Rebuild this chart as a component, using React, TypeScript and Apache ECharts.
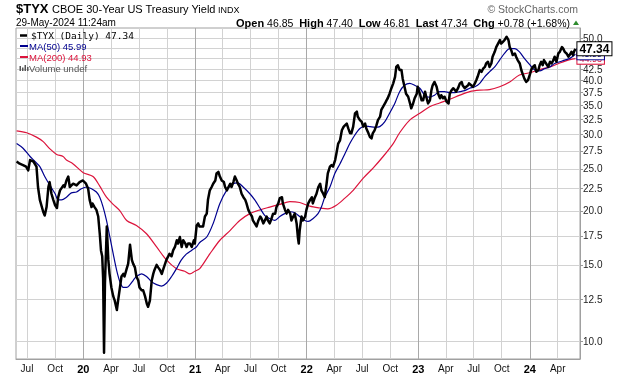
import React, { useEffect, useRef } from 'react';
import * as echarts from 'echarts';

// ---------- DATA ----------
const tyx2019: [string, number][] = [
  ['2019-05-28', 26.0], ['2019-06-07', 25.7], ['2019-06-18', 25.5], ['2019-06-28', 25.3], ['2019-07-05', 24.8],
  ['2019-07-11', 26.2], ['2019-07-22', 26.0], ['2019-08-01', 25.3], ['2019-08-06', 22.7], ['2019-08-12', 21.2],
  ['2019-08-23', 19.9], ['2019-08-28', 19.5], ['2019-09-03', 20.4], ['2019-09-09', 22.7], ['2019-09-13', 23.3],
  ['2019-09-19', 21.9], ['2019-09-25', 21.2], ['2019-10-01', 20.6], ['2019-10-07', 20.3], ['2019-10-11', 21.5],
  ['2019-10-17', 22.3], ['2019-10-28', 22.9], ['2019-11-01', 22.7], ['2019-11-07', 23.5], ['2019-11-13', 24.0],
  ['2019-11-18', 22.7], ['2019-11-29', 23.1], ['2019-12-10', 22.9], ['2019-12-20', 23.3], ['2019-12-31', 23.5],
];
const tyx2020: [string, number][] = [
  ['2020-01-10', 23.1], ['2020-01-17', 22.5], ['2020-01-22', 21.2], ['2020-01-28', 20.4], ['2020-01-31', 20.8],
  ['2020-02-07', 20.4], ['2020-02-13', 20.1], ['2020-02-19', 19.4], ['2020-02-24', 17.7], ['2020-02-28', 16.2],
  ['2020-03-03', 15.7], ['2020-03-06', 14.0], ['2020-03-09', 9.4], ['2020-03-12', 13.6], ['2020-03-18', 18.4],
  ['2020-03-23', 15.4], ['2020-03-27', 14.3], ['2020-04-02', 13.3], ['2020-04-08', 12.7], ['2020-04-13', 12.4],
  ['2020-04-20', 11.8], ['2020-04-24', 12.4], ['2020-04-30', 13.3], ['2020-05-05', 14.1], ['2020-05-11', 14.3],
  ['2020-05-15', 14.1], ['2020-05-21', 14.6], ['2020-05-27', 15.1], ['2020-06-02', 16.7], ['2020-06-08', 15.4],
  ['2020-06-12', 15.1], ['2020-06-18', 14.8], ['2020-06-23', 14.1], ['2020-06-29', 13.8], ['2020-07-03', 13.3],
  ['2020-07-10', 13.1], ['2020-07-15', 13.1], ['2020-07-21', 12.7], ['2020-07-27', 12.2], ['2020-07-31', 12.0],
  ['2020-08-06', 12.4], ['2020-08-12', 13.8], ['2020-08-17', 14.3], ['2020-08-21', 14.6], ['2020-08-28', 15.0],
  ['2020-09-02', 14.8], ['2020-09-08', 14.6], ['2020-09-14', 14.3], ['2020-09-18', 14.6], ['2020-09-29', 15.4],
  ['2020-10-05', 15.7], ['2020-10-09', 15.9], ['2020-10-16', 15.7], ['2020-10-21', 16.2], ['2020-10-27', 16.5],
  ['2020-11-02', 17.1], ['2020-11-06', 16.8], ['2020-11-12', 17.4], ['2020-11-18', 16.5], ['2020-11-23', 17.1],
  ['2020-11-30', 16.8], ['2020-12-04', 16.5], ['2020-12-09', 16.8], ['2020-12-15', 16.8], ['2020-12-21', 16.5],
  ['2020-12-28', 17.1], ['2020-12-31', 16.8],
];
const tyx2021: [string, number][] = [
  ['2021-01-06', 18.5], ['2021-01-11', 18.7], ['2021-01-15', 18.4], ['2021-01-27', 18.4], ['2021-02-02', 19.4],
  ['2021-02-08', 19.7], ['2021-02-12', 21.2], ['2021-02-18', 22.3], ['2021-02-24', 22.7], ['2021-03-01', 23.1],
  ['2021-03-08', 23.5], ['2021-03-12', 24.4], ['2021-03-18', 24.6], ['2021-03-23', 24.0], ['2021-03-29', 23.5],
  ['2021-04-05', 23.3], ['2021-04-09', 22.7], ['2021-04-15', 22.3], ['2021-04-20', 22.7], ['2021-04-26', 23.1],
  ['2021-04-30', 22.7], ['2021-05-06', 23.3], ['2021-05-11', 24.0], ['2021-05-17', 23.5], ['2021-05-21', 23.1],
  ['2021-05-27', 22.7], ['2021-06-02', 21.9], ['2021-06-08', 21.5], ['2021-06-14', 21.2], ['2021-06-18', 20.8],
  ['2021-06-24', 20.1], ['2021-06-30', 19.7], ['2021-07-06', 19.4], ['2021-07-09', 19.0], ['2021-07-15', 18.7],
  ['2021-07-21', 18.4], ['2021-07-27', 19.0], ['2021-08-02', 19.4], ['2021-08-06', 19.2], ['2021-08-12', 18.7],
  ['2021-08-17', 19.0], ['2021-08-23', 19.4], ['2021-08-27', 19.0], ['2021-09-02', 18.7], ['2021-09-08', 19.2],
  ['2021-09-13', 19.7], ['2021-09-20', 19.7], ['2021-09-24', 20.4], ['2021-09-30', 20.8], ['2021-10-05', 21.4],
  ['2021-10-12', 21.5], ['2021-10-15', 20.8], ['2021-10-22', 20.1], ['2021-10-27', 19.7], ['2021-11-01', 20.1],
  ['2021-11-08', 19.7], ['2021-11-12', 19.0], ['2021-11-18', 19.4], ['2021-11-23', 19.7], ['2021-11-29', 18.7],
  ['2021-12-03', 17.4], ['2021-12-06', 16.8], ['2021-12-09', 18.0], ['2021-12-15', 19.4], ['2021-12-20', 19.0],
  ['2021-12-27', 19.4], ['2021-12-31', 20.1],
];
const tyx2022: [string, number][] = [
  ['2022-01-06', 20.8], ['2022-01-12', 21.2], ['2022-01-18', 21.5], ['2022-01-21', 20.8], ['2022-01-28', 21.5],
  ['2022-02-02', 21.9], ['2022-02-08', 22.7], ['2022-02-14', 23.1], ['2022-02-18', 22.3], ['2022-02-24', 21.9],
  ['2022-03-01', 21.5], ['2022-03-07', 23.1], ['2022-03-11', 24.4], ['2022-03-18', 25.3], ['2022-03-23', 25.5],
  ['2022-03-28', 25.3], ['2022-04-04', 26.2], ['2022-04-08', 27.1], ['2022-04-14', 28.6], ['2022-04-20', 29.1],
  ['2022-04-26', 30.7], ['2022-05-02', 31.3], ['2022-05-06', 31.5], ['2022-05-12', 31.8], ['2022-05-17', 31.0],
  ['2022-05-23', 30.2], ['2022-05-27', 30.2], ['2022-06-02', 31.3], ['2022-06-08', 33.6], ['2022-06-14', 33.9],
  ['2022-06-17', 33.0], ['2022-06-24', 32.4], ['2022-06-30', 32.1], ['2022-07-05', 31.3], ['2022-07-11', 31.8],
  ['2022-07-15', 31.0], ['2022-07-22', 30.2], ['2022-07-27', 29.6], ['2022-08-01', 29.4], ['2022-08-05', 30.2],
  ['2022-08-11', 30.7], ['2022-08-17', 31.5], ['2022-08-22', 32.4], ['2022-08-29', 33.0], ['2022-09-02', 34.2],
  ['2022-09-08', 34.8], ['2022-09-14', 35.4], ['2022-09-19', 36.0], ['2022-09-23', 36.4], ['2022-09-29', 37.3],
  ['2022-10-05', 38.4], ['2022-10-11', 39.4], ['2022-10-17', 40.8], ['2022-10-21', 43.0], ['2022-10-26', 43.4],
  ['2022-11-01', 42.3], ['2022-11-07', 42.3], ['2022-11-11', 40.4], ['2022-11-17', 38.7], ['2022-11-22', 37.3],
  ['2022-11-29', 36.7], ['2022-12-05', 35.4], ['2022-12-09', 34.5], ['2022-12-15', 35.4], ['2022-12-20', 36.4],
  ['2022-12-27', 37.3], ['2022-12-30', 38.7],
];
const tyx2023: [string, number][] = [
  ['2023-01-06', 37.3], ['2023-01-12', 36.0], ['2023-01-17', 36.0], ['2023-01-23', 37.7], ['2023-01-27', 36.7],
  ['2023-02-02', 35.4], ['2023-02-08', 36.0], ['2023-02-13', 38.0], ['2023-02-17', 39.0], ['2023-02-23', 39.7],
  ['2023-03-02', 38.7], ['2023-03-07', 37.3], ['2023-03-13', 36.4], ['2023-03-17', 37.0], ['2023-03-23', 36.4],
  ['2023-03-28', 36.7], ['2023-04-04', 35.7], ['2023-04-10', 35.4], ['2023-04-14', 37.3], ['2023-04-20', 38.0],
  ['2023-04-25', 38.4], ['2023-05-01', 38.0], ['2023-05-05', 37.7], ['2023-05-11', 38.4], ['2023-05-17', 39.4],
  ['2023-05-23', 39.7], ['2023-05-26', 39.0], ['2023-06-02', 38.4], ['2023-06-07', 38.7], ['2023-06-13', 39.0],
  ['2023-06-16', 39.4], ['2023-06-23', 39.0], ['2023-06-29', 38.7], ['2023-07-05', 39.4], ['2023-07-10', 40.1],
  ['2023-07-14', 40.8], ['2023-07-21', 42.3], ['2023-07-27', 41.9], ['2023-08-01', 42.6], ['2023-08-07', 43.0],
  ['2023-08-11', 43.8], ['2023-08-17', 44.2], ['2023-08-22', 43.0], ['2023-08-28', 43.8], ['2023-09-01', 45.4],
  ['2023-09-08', 46.6], ['2023-09-13', 47.8], ['2023-09-19', 48.7], ['2023-09-25', 49.6], ['2023-09-29', 48.7],
  ['2023-10-04', 49.1], ['2023-10-10', 49.6], ['2023-10-17', 50.5], ['2023-10-23', 49.6], ['2023-10-27', 47.8],
  ['2023-11-01', 47.0], ['2023-11-06', 45.8], ['2023-11-13', 46.2], ['2023-11-17', 45.4], ['2023-11-22', 44.6],
  ['2023-11-29', 43.8], ['2023-12-04', 42.3], ['2023-12-08', 41.5], ['2023-12-14', 40.4], ['2023-12-20', 39.7],
  ['2023-12-26', 40.1],
];
const tyx2024: [string, number][] = [
  ['2024-01-02', 41.5], ['2024-01-05', 42.3], ['2024-01-11', 43.0], ['2024-01-17', 43.4], ['2024-01-22', 41.9],
  ['2024-01-29', 42.3], ['2024-02-02', 43.4], ['2024-02-07', 44.2], ['2024-02-12', 43.4], ['2024-02-16', 44.6],
  ['2024-02-23', 43.8], ['2024-03-01', 43.0], ['2024-03-07', 44.2], ['2024-03-12', 43.8], ['2024-03-18', 44.6],
  ['2024-03-22', 45.4], ['2024-03-28', 44.2], ['2024-04-03', 46.2], ['2024-04-08', 46.6], ['2024-04-15', 47.8],
  ['2024-04-19', 47.4], ['2024-04-24', 46.6], ['2024-04-30', 46.2], ['2024-05-06', 45.4], ['2024-05-10', 45.8],
  ['2024-05-16', 46.6], ['2024-05-21', 45.8], ['2024-05-24', 46.6], ['2024-05-29', 47.34],
];
const ma50: [string, number][] = [
  ['2019-05-28', 28.6], ['2019-06-18', 27.9], ['2019-07-11', 26.7], ['2019-07-27', 26.0], ['2019-08-12', 25.3],
  ['2019-08-28', 24.0], ['2019-09-14', 22.9], ['2019-10-01', 21.9], ['2019-10-11', 21.2], ['2019-10-22', 21.2],
  ['2019-11-07', 21.5], ['2019-11-23', 22.0], ['2019-12-10', 22.1], ['2019-12-26', 22.5], ['2020-01-12', 22.7],
  ['2020-01-28', 22.5], ['2020-02-13', 22.1], ['2020-02-24', 21.5], ['2020-03-06', 20.4], ['2020-03-17', 19.0],
  ['2020-03-28', 17.4], ['2020-04-08', 15.9], ['2020-04-19', 14.6], ['2020-04-30', 13.7], ['2020-05-11', 13.3],
  ['2020-05-22', 13.3], ['2020-06-02', 13.5], ['2020-06-12', 13.8], ['2020-06-23', 14.1], ['2020-07-10', 14.3],
  ['2020-07-26', 14.1], ['2020-08-12', 13.7], ['2020-08-28', 13.5], ['2020-09-13', 13.4], ['2020-09-29', 13.6],
  ['2020-10-16', 14.1], ['2020-11-01', 14.7], ['2020-11-17', 15.4], ['2020-12-04', 15.9], ['2020-12-20', 16.2],
  ['2021-01-05', 16.5], ['2021-01-16', 16.9], ['2021-02-08', 17.4], ['2021-03-01', 18.7], ['2021-03-23', 20.8],
  ['2021-04-14', 22.3], ['2021-05-05', 23.1], ['2021-05-21', 23.2], ['2021-06-07', 22.7], ['2021-06-29', 21.9],
  ['2021-07-15', 21.2], ['2021-08-01', 20.3], ['2021-08-17', 19.5], ['2021-09-02', 19.2], ['2021-09-19', 19.0],
  ['2021-10-05', 19.4], ['2021-10-21', 19.7], ['2021-11-07', 19.9], ['2021-11-23', 19.8], ['2021-12-09', 19.4],
  ['2021-12-26', 19.0], ['2022-01-06', 18.9], ['2022-01-22', 19.2], ['2022-02-07', 19.7], ['2022-02-18', 20.4],
  ['2022-03-01', 21.5], ['2022-03-18', 22.7], ['2022-04-03', 24.4], ['2022-04-20', 25.7], ['2022-05-06', 27.1],
  ['2022-05-22', 28.6], ['2022-06-07', 29.9], ['2022-06-24', 31.0], ['2022-07-10', 31.4], ['2022-07-27', 31.3],
  ['2022-08-12', 31.2], ['2022-08-28', 31.3], ['2022-09-13', 32.1], ['2022-09-29', 33.6], ['2022-10-16', 35.4],
  ['2022-11-01', 37.7], ['2022-11-17', 39.0], ['2022-12-04', 39.4], ['2022-12-20', 39.0], ['2023-01-06', 38.4],
  ['2023-01-22', 37.0], ['2023-02-07', 36.6], ['2023-02-23', 37.0], ['2023-03-12', 37.7], ['2023-03-28', 37.7],
  ['2023-04-14', 37.5], ['2023-04-30', 37.5], ['2023-05-17', 37.7], ['2023-06-02', 37.9], ['2023-06-18', 38.4],
  ['2023-07-05', 38.7], ['2023-07-21', 39.4], ['2023-08-06', 40.8], ['2023-08-22', 41.9], ['2023-09-08', 43.0],
  ['2023-09-24', 44.6], ['2023-10-10', 46.2], ['2023-10-27', 47.4], ['2023-11-12', 47.4], ['2023-11-28', 46.6],
  ['2023-12-14', 45.0], ['2024-01-02', 43.4], ['2024-01-17', 42.3], ['2024-02-02', 42.1], ['2024-02-18', 42.6],
  ['2024-03-06', 43.0], ['2024-03-22', 43.8], ['2024-04-08', 44.2], ['2024-04-24', 44.6], ['2024-05-11', 45.0],
  ['2024-05-29', 45.99],
];
const ma200: [string, number][] = [
  ['2019-05-28', 30.6], ['2019-06-30', 30.3], ['2019-08-01', 29.6], ['2019-08-23', 28.9], ['2019-09-14', 27.8],
  ['2019-10-06', 27.0], ['2019-10-27', 26.7], ['2019-11-07', 26.2], ['2019-11-28', 25.7], ['2020-01-01', 24.5],
  ['2020-02-02', 24.0], ['2020-02-24', 22.8], ['2020-03-17', 21.5], ['2020-04-08', 20.7], ['2020-04-30', 20.0],
  ['2020-05-22', 19.0], ['2020-06-23', 18.5], ['2020-07-26', 17.7], ['2020-08-28', 16.5], ['2020-09-29', 15.4],
  ['2020-11-01', 14.7], ['2020-11-28', 14.5], ['2020-12-15', 14.3], ['2020-12-31', 14.5], ['2021-01-16', 14.7],
  ['2021-02-18', 15.9], ['2021-03-23', 17.1], ['2021-04-25', 18.0], ['2021-05-27', 19.0], ['2021-06-29', 19.7],
  ['2021-08-01', 20.1], ['2021-09-02', 20.4], ['2021-10-05', 20.7], ['2021-11-07', 21.0], ['2021-12-09', 20.9],
  ['2022-01-11', 20.5], ['2022-02-13', 20.3], ['2022-03-11', 20.2], ['2022-04-08', 20.6], ['2022-05-06', 21.4],
  ['2022-06-02', 22.3], ['2022-07-05', 23.8], ['2022-08-06', 25.1], ['2022-09-08', 26.7], ['2022-10-11', 28.6],
  ['2022-11-01', 30.3], ['2022-12-04', 32.4], ['2023-01-06', 33.6], ['2023-02-07', 34.8], ['2023-03-12', 35.5],
  ['2023-04-14', 36.2], ['2023-05-17', 37.0], ['2023-06-18', 37.7], ['2023-07-21', 38.0], ['2023-08-22', 38.1],
  ['2023-09-24', 38.7], ['2023-10-27', 39.7], ['2023-11-28', 41.2], ['2024-01-02', 41.7], ['2024-02-02', 42.4],
  ['2024-03-06', 43.0], ['2024-04-08', 43.9], ['2024-05-11', 44.7], ['2024-05-29', 44.93],
];
const yGridValues = [10, 12.5, 15, 17.5, 20, 22.5, 25, 27.5, 30, 32.5, 35, 37.5, 40, 42.5, 45, 47.5, 50];
const yLabelValues = [10, 12.5, 15, 17.5, 20, 22.5, 25, 27.5, 30, 32.5, 35, 37.5, 40, 42.5, 50];
const yRange = [9.09, 52.9];
const xRange = ['2019-05-26', '2024-06-13'];
const quarterStarts = [
  '2019-07-01', '2019-10-01', '2020-01-01', '2020-04-01', '2020-07-01', '2020-10-01',
  '2021-01-01', '2021-04-01', '2021-07-01', '2021-10-01', '2022-01-01', '2022-04-01',
  '2022-07-01', '2022-10-01', '2023-01-01', '2023-04-01', '2023-07-01', '2023-10-01',
  '2024-01-01', '2024-04-01',
];
const monthNames = ['Jan', 'Feb', 'Mar', 'Apr', 'May', 'Jun', 'Jul', 'Aug', 'Sep', 'Oct', 'Nov', 'Dec'];
const quote = { open: '46.85', high: '47.40', low: '46.81', last: '47.34', chg: '+0.78', pct: '+1.68%' };
const legendTexts = ['$TYX (Daily) 47.34', 'MA(50) 45.99', 'MA(200) 44.93', 'Volume undef'];

// ---------- COLOURS / FONT ----------
const FONT = '"Liberation Sans", Arial, sans-serif';
const NAVY = '#00008f';
const RED = '#dc143c';
const GRID = '#d2d2d2';
const GRID_YEAR = '#a9a9a9';
const BORDER = '#a0a0a0';

const t = (s: string) => {
  const [y, m, d] = s.split('-').map(Number);
  return new Date(y, m - 1, d).getTime();
};
const toPts = (arr: [string, number][]) => arr.map(([d, v]) => [t(d), Math.log(v)]);

export default function App() {
  const ref = useRef<HTMLDivElement>(null);

  useEffect(() => {
    if (!ref.current) return;
    const chart = echarts.init(ref.current, null, { renderer: 'svg' });
    const price = toPts([...tyx2019, ...tyx2020, ...tyx2021, ...tyx2022, ...tyx2023, ...tyx2024]);
    const m50 = toPts(ma50);
    const m200 = toPts(ma200);

    // vertical grid colours cycle with the quarters (Jul, Oct, Jan, Apr): Jan = year line
    const xGridColors = quarterStarts.slice(0, 4).map((d) => (d.endsWith('-01-01') ? GRID_YEAR : GRID));

    const endLbl = (color: string, bold: boolean, size: number) => ({
      show: true,
      position: 'right',
      distance: 2,
      formatter: (p: any) => Math.exp(p.value[1]).toFixed(2),
      color,
      fontFamily: FONT,
      fontWeight: bold ? 'bold' : 'normal',
      fontSize: size,
      backgroundColor: '#fff',
      borderColor: color,
      borderWidth: 1,
      padding: [1, 2, 0, 2],
    });

    const headerRich = `{b|Open} ${quote.open}  {b|High} ${quote.high}  {b|Low} ${quote.low}  {b|Last} ${quote.last}  {b|Chg} ${quote.chg} (${quote.pct})`;

    chart.setOption({
      animation: false,
      textStyle: { fontFamily: FONT },
      grid: {
        left: 16, top: 28, right: 40, bottom: 17,
        show: true, borderColor: BORDER, borderWidth: 1, backgroundColor: 'transparent',
      },
      xAxis: {
        type: 'value',
        min: t(xRange[0]),
        max: t(xRange[1]),
        splitLine: { show: true, lineStyle: { color: xGridColors, width: 1 } },
        axisLine: { show: true, lineStyle: { color: BORDER } },
        axisTick: { show: false, customValues: quarterStarts.map(t) },
        axisLabel: {
          customValues: quarterStarts.map(t),
          margin: 4,
          color: '#111',
          fontSize: 10,
          fontFamily: FONT,
          hideOverlap: false,
          formatter: (v: number) => {
            const d = new Date(v);
            const m = d.getMonth();
            if (m === 0) return `{y|${String(d.getFullYear()).slice(2)}}`;
            return monthNames[m];
          },
          rich: { y: { fontWeight: 'bold', fontSize: 11, fontFamily: FONT, color: '#000' } },
        },
      },
      yAxis: {
        type: 'value',
        position: 'right',
        min: Math.log(yRange[0]),
        max: Math.log(yRange[1]),
        splitLine: { show: true, lineStyle: { color: GRID, width: 1 } },
        axisLine: { show: true, lineStyle: { color: BORDER } },
        axisTick: { show: true, length: 3, customValues: yGridValues.map(Math.log), lineStyle: { color: '#999' } },
        axisLabel: {
          customValues: yLabelValues.map(Math.log),
          margin: 3,
          color: '#222',
          fontSize: 10,
          fontFamily: FONT,
          formatter: (v: number) => Math.exp(v).toFixed(1),
        },
      },
      graphic: {
        elements: [
          { type: 'text', x: 16, y: 8.5, z: 100, style: { text: '$TYX', fontFamily: FONT, fontWeight: 'bold', fontSize: 13, fill: '#000', verticalAlign: 'middle' } },
          { type: 'text', x: 52, y: 9, z: 100, style: { text: 'CBOE 30-Year US Treasury Yield', fontFamily: FONT, fontSize: 11, fill: '#000', verticalAlign: 'middle' } },
          { type: 'text', x: 218, y: 9.5, z: 100, style: { text: 'INDX', fontFamily: FONT, fontSize: 9, fill: '#000', verticalAlign: 'middle' } },
          { type: 'text', x: 578, y: 8.5, z: 100, style: { text: '© StockCharts.com', fontFamily: FONT, fontSize: 10.5, fill: '#666', align: 'right', verticalAlign: 'middle' } },
          { type: 'text', x: 16, y: 22.5, z: 100, style: { text: '29-May-2024 11:24am', fontFamily: FONT, fontSize: 10, fill: '#000', verticalAlign: 'middle' } },
          {
            type: 'text', x: 570, y: 22.5, z: 100,
            style: {
              text: headerRich, fontFamily: FONT, fontSize: 10.5, fill: '#000', align: 'right', verticalAlign: 'middle',
              rich: { b: { fontWeight: 'bold', fontFamily: FONT, fontSize: 11, fill: '#000' } },
            },
          },
          { type: 'polygon', z: 100, shape: { points: [[573, 25], [579, 25], [576, 20.5]] }, style: { fill: '#2e8b2e' } },
          // legend
          { type: 'line', z: 100, shape: { x1: 20, y1: 35.5, x2: 27, y2: 35.5 }, style: { stroke: '#000', lineWidth: 2.5 } },
          { type: 'text', x: 31, y: 35.5, z: 100, style: { text: legendTexts[0], fontFamily: '"DejaVu Sans Mono", monospace', fontSize: 9.5, fill: '#000', verticalAlign: 'middle' } },
          { type: 'line', z: 100, shape: { x1: 20, y1: 46, x2: 28, y2: 46 }, style: { stroke: NAVY, lineWidth: 2 } },
          { type: 'text', x: 29, y: 46, z: 100, style: { text: legendTexts[1], fontFamily: FONT, fontSize: 9.5, fill: NAVY, verticalAlign: 'middle' } },
          { type: 'line', z: 100, shape: { x1: 20, y1: 57, x2: 28, y2: 57 }, style: { stroke: RED, lineWidth: 2 } },
          { type: 'text', x: 29, y: 57, z: 100, style: { text: legendTexts[2], fontFamily: FONT, fontSize: 9.5, fill: RED, verticalAlign: 'middle' } },
          { type: 'rect', z: 100, shape: { x: 19.5, y: 66, width: 1.5, height: 5 }, style: { fill: '#555' } },
          { type: 'rect', z: 100, shape: { x: 22, y: 67.5, width: 1.5, height: 3.5 }, style: { fill: '#555' } },
          { type: 'rect', z: 100, shape: { x: 24.5, y: 65, width: 1.5, height: 6 }, style: { fill: '#555' } },
          { type: 'rect', z: 100, shape: { x: 27, y: 67, width: 1.5, height: 4 }, style: { fill: '#555' } },
          { type: 'text', x: 29, y: 68, z: 100, style: { text: legendTexts[3], fontFamily: FONT, fontSize: 9.5, fill: '#555', verticalAlign: 'middle' } },
        ],
      },
      series: [
        {
          type: 'line',
          name: 'MA(200)',
          data: m200,
          symbol: 'none',
          smooth: 0.3,
          lineStyle: { color: RED, width: 1.2 },
          itemStyle: { color: RED },
          z: 3,
          endLabel: endLbl(RED, false, 9),
        },
        {
          type: 'line',
          name: 'MA(50)',
          data: m50,
          symbol: 'none',
          smooth: 0.3,
          lineStyle: { color: NAVY, width: 1.2 },
          itemStyle: { color: NAVY },
          z: 4,
          endLabel: endLbl(NAVY, false, 9),
        },
        {
          type: 'line',
          name: '$TYX',
          data: price,
          symbol: 'none',
          lineStyle: { color: '#000', width: 2.5, join: 'round' },
          itemStyle: { color: '#000' },
          z: 5,
          endLabel: endLbl('#000', true, 12),
        },
      ],
    });
    return () => chart.dispose();
  }, []);

  return <div ref={ref} style={{ position: 'fixed', left: 0, top: 0, width: 620, height: 376 }} />;
}
